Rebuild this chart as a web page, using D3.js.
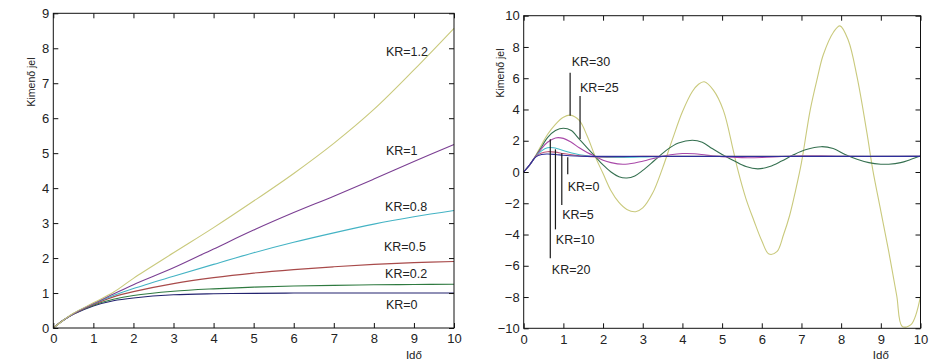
<!DOCTYPE html>
<html>
<head>
<meta charset="utf-8">
<script src="https://cdn.jsdelivr.net/npm/d3@7"></script>
<style>
  html, body { margin: 0; padding: 0; background: #fff; }
  svg { display: block; }
</style>
</head>
<body>
<svg id="chart" width="933" height="361"></svg>
<script>
/* ── Data ────────────────────────────────────────────────────────── */

// left panel: KR = 0 … 1.2, sampled times
const leftTime = [0, 0.25, 0.5, 1, 1.5, 2, 3, 4, 5, 6, 7, 8, 9, 10];
const leftKR0  = [0, 0.22, 0.39, 0.63, 0.78, 0.86, 0.95, 0.98, 0.99, 1.0, 1.0, 1.0, 1.0, 1.0];
const leftKR02 = [0, 0.22, 0.40, 0.65, 0.82, 0.93, 1.05, 1.12, 1.17, 1.20, 1.22, 1.235, 1.245, 1.25];
const leftKR05 = [0, 0.22, 0.40, 0.67, 0.89, 1.04, 1.27, 1.44, 1.57, 1.67, 1.75, 1.82, 1.87, 1.90];
const leftKR08 = [0, 0.22, 0.41, 0.69, 0.93, 1.13, 1.48, 1.82, 2.15, 2.45, 2.72, 2.97, 3.18, 3.36];
const leftKR1  = [0, 0.22, 0.41, 0.70, 0.97, 1.24, 1.72, 2.26, 2.80, 3.30, 3.77, 4.26, 4.76, 5.25];
const leftKR12 = [0, 0.22, 0.42, 0.72, 1.02, 1.42, 2.15, 2.87, 3.63, 4.42, 5.28, 6.25, 7.38, 8.57];

const leftLabels = ["KR=0", "KR=0.2", "KR=0.5", "KR=0.8", "KR=1", "KR=1.2"];
const leftLabelX = [8.30, 8.28, 8.25, 8.28, 8.30, 8.30];
const leftLabelY = [0.66, 1.56, 2.32, 3.47, 5.09, 7.90];

// right panel: [time, value] pairs
const rightKR30 = [[0,0],[0.15,0.45],[0.3,1.05],[0.45,1.75],[0.6,2.4],[0.8,3.05],[1.0,3.5],[1.17,3.64],
  [1.4,3.3],[1.6,2.3],[1.8,1.0],[2.0,-0.1],[2.2,-1.2],[2.4,-1.95],[2.6,-2.4],[2.82,-2.54],[3.0,-2.3],
  [3.25,-1.35],[3.5,0.25],[3.75,2.1],[4.0,3.85],[4.25,5.15],[4.4,5.6],[4.55,5.77],[4.78,5.24],[5.03,3.96],
  [5.28,1.4],[5.4,0.1],[5.6,-1.7],[5.8,-3.1],[6.0,-4.4],[6.18,-5.25],[6.38,-5.1],[6.55,-4.0],[6.7,-2.8],
  [6.85,-1.2],[7.0,0.6],[7.22,3.96],[7.4,6.0],[7.55,7.5],[7.81,8.96],[7.97,9.35],[8.18,8.43],[8.4,6.1],
  [8.65,2.5],[8.8,0.1],[9.0,-2.5],[9.2,-5.1],[9.4,-7.9],[9.54,-9.88],[9.76,-9.77],[10,-7.96]];
const rightKR25 = [[0,0],[0.15,0.45],[0.3,1.0],[0.45,1.6],[0.6,2.2],[0.8,2.65],[1.0,2.8],[1.2,2.65],
  [1.4,2.1],[1.6,1.55],[1.8,1.0],[2.0,0.45],[2.2,0.0],[2.4,-0.3],[2.6,-0.38],[2.8,-0.25],[3.0,0.1],
  [3.3,0.75],[3.6,1.4],[3.9,1.85],[4.25,2.03],[4.5,1.9],[4.75,1.5],[5.0,1.12],[5.3,0.72],[5.6,0.35],
  [5.9,0.2],[6.2,0.35],[6.5,0.7],[6.8,1.1],[7.1,1.42],[7.5,1.62],[7.8,1.5],[8.1,1.12],[8.4,0.82],
  [8.7,0.6],[9.0,0.5],[9.2,0.5],[9.5,0.6],[9.75,0.8],[10,1.02]];
const rightKR20 = [[0,0],[0.15,0.45],[0.3,1.0],[0.45,1.5],[0.6,1.9],[0.8,2.18],[1.0,2.15],[1.2,1.9],
  [1.4,1.55],[1.6,1.25],[1.8,1.0],[2.0,0.75],[2.2,0.6],[2.5,0.5],[2.8,0.58],[3.1,0.75],[3.4,0.95],
  [3.7,1.1],[4.0,1.18],[4.3,1.17],[4.6,1.08],[5.0,0.98],[5.5,0.92],[6.0,0.93],[6.5,0.99],[7.0,1.03],
  [7.5,1.03],[8.0,1.0],[9.0,0.99],[10,1.0]];
const rightKR10 = [[0,0],[0.15,0.45],[0.3,0.98],[0.45,1.35],[0.6,1.55],[0.75,1.55],[0.9,1.45],[1.1,1.3],
  [1.3,1.17],[1.5,1.07],[1.8,0.98],[2.1,0.93],[2.5,0.93],[3.0,0.96],[3.5,1.0],[4.0,1.01],[5.0,1.0],[10,1.0]];
const rightKR5  = [[0,0],[0.15,0.45],[0.3,0.98],[0.45,1.22],[0.6,1.3],[0.8,1.27],[1.0,1.18],[1.3,1.07],
  [1.6,1.0],[2.0,0.97],[2.5,0.98],[3.0,1.0],[10,1.0]];
const rightKR0  = [[0,0],[0.15,0.45],[0.3,0.95],[0.45,1.12],[0.6,1.15],[0.8,1.12],[1.0,1.07],[1.3,1.02],
  [1.6,1.0],[10,1.0]];

const rightLabels = ["KR=30", "KR=25", "KR=0", "KR=5", "KR=10", "KR=20"];
const rightLabelX = [1.21, 1.42, 1.11, 0.97, 0.81, 0.71];
const rightLabelY = [7.10, 5.39, -0.90, -2.71, -4.29, -6.21];
// pointer lines: time, top value, bottom value
const pointerT    = [1.17, 1.42, 1.11, 0.96, 0.80, 0.67];
const pointerTop  = [6.35, 4.86, 0.95, 1.20, 1.45, 2.09];
const pointerBot  = [3.60, 2.11, -0.15, -2.11, -3.67, -5.52];

const xTicks      = d3.range(0, 11, 1);
const leftYTicks  = d3.range(0, 10, 1);
const rightYTicks = d3.range(-10, 11, 2);

/* ── Styling ─────────────────────────────────────────────────────── */
const FONT = "'Liberation Sans', Arial, sans-serif";
const TEXT = "#222";

const svg = d3.select("#chart");

function drawPanel(p) {
  const x = d3.scaleLinear().domain([0, 10]).range([p.left, p.right]);
  const y = d3.scaleLinear().domain(p.yDomain).range([p.bottom, p.top]);
  const g = svg.append("g");

  // series
  const line = d3.line().x(d => x(d[0])).y(d => y(d[1])).curve(d3.curveCatmullRom.alpha(0.5));
  p.series.forEach(s => {
    g.append("path")
      .datum(s.data)
      .attr("fill", "none")
      .attr("stroke", s.color)
      .attr("stroke-width", 1.1)
      .attr("d", line);
  });

  // axes, ticks pointing in
  const bottom = g.append("g").attr("transform", `translate(0,${p.bottom})`)
    .call(d3.axisBottom(x).tickValues(xTicks).tickSizeInner(-5).tickSizeOuter(0).tickPadding(6));
  const left = g.append("g").attr("transform", `translate(${p.left},0)`)
    .call(d3.axisLeft(y).tickValues(p.yTicks).tickSizeInner(-5).tickSizeOuter(0).tickPadding(4));
  g.append("g").attr("transform", `translate(0,${p.top})`)
    .call(d3.axisTop(x).tickValues(xTicks).tickSizeInner(-5).tickSizeOuter(0).tickFormat(""));
  g.append("g").attr("transform", `translate(${p.right},0)`)
    .call(d3.axisRight(y).tickValues(p.yTicks).tickSizeInner(-5).tickSizeOuter(0).tickFormat(""));

  g.selectAll(".domain").remove();
  g.selectAll(".tick line").attr("stroke", "#111");
  [bottom, left].forEach(a => a.attr("font-size", 13).attr("font-family", FONT)
    .selectAll("text").attr("fill", TEXT));

  // frame
  g.append("rect")
    .attr("x", p.left).attr("y", p.top)
    .attr("width", p.right - p.left).attr("height", p.bottom - p.top)
    .attr("fill", "none").attr("stroke", "#111").attr("stroke-width", 1);

  // pointer lines
  (p.pointers || []).forEach(pt => {
    g.append("line")
      .attr("x1", x(pt.t)).attr("x2", x(pt.t))
      .attr("y1", y(pt.top)).attr("y2", y(pt.bot))
      .attr("stroke", "#1a1a1a").attr("stroke-width", 1.2);
  });

  // annotations
  p.labels.forEach(l => {
    g.append("text")
      .attr("x", x(l.x)).attr("y", y(l.y)).attr("dy", "0.36em")
      .attr("font-family", FONT).attr("font-size", 12.5).attr("fill", TEXT)
      .text(l.text);
  });

  // axis titles
  g.append("text")
    .attr("transform", `translate(${p.yLabelX},${p.yLabelY}) rotate(-90)`)
    .attr("text-anchor", "middle")
    .attr("font-family", FONT).attr("font-size", 10.5).attr("fill", TEXT)
    .text("Kimenő jel");
  g.append("text")
    .attr("x", x(9)).attr("y", 359)
    .attr("text-anchor", "middle")
    .attr("font-family", FONT).attr("font-size", 11.5).attr("fill", TEXT)
    .text("Idő");
}

const zip = vals => leftTime.map((t, i) => [t, vals[i]]);

drawPanel({
  left: 53.3, right: 454, top: 13.3, bottom: 328,
  yDomain: [0, 9], yTicks: leftYTicks,
  yLabelX: 34.5, yLabelY: 82,
  series: [
    { data: zip(leftKR0),  color: "#23236f" },
    { data: zip(leftKR02), color: "#2f7a40" },
    { data: zip(leftKR05), color: "#a84a4a" },
    { data: zip(leftKR08), color: "#44b3c4" },
    { data: zip(leftKR1),  color: "#7b3f93" },
    { data: zip(leftKR12), color: "#c9c97c" },
  ],
  labels: leftLabels.map((t, i) => ({ text: t, x: leftLabelX[i], y: leftLabelY[i] })),
});

drawPanel({
  left: 523.7, right: 920.5, top: 15.7, bottom: 328.3,
  yDomain: [-10, 10], yTicks: rightYTicks,
  yLabelX: 503.5, yLabelY: 73,
  series: [
    { data: rightKR30, color: "#c9c97c" },
    { data: rightKR25, color: "#357050" },
    { data: rightKR20, color: "#a848a8" },
    { data: rightKR10, color: "#45bcc8" },
    { data: rightKR5,  color: "#c05878" },
    { data: rightKR0,  color: "#2e2e9a" },
  ],
  labels: rightLabels.map((t, i) => ({ text: t, x: rightLabelX[i], y: rightLabelY[i] })),
  pointers: pointerT.map((t, i) => ({ t, top: pointerTop[i], bot: pointerBot[i] })),
});
</script>
</body>
</html>
